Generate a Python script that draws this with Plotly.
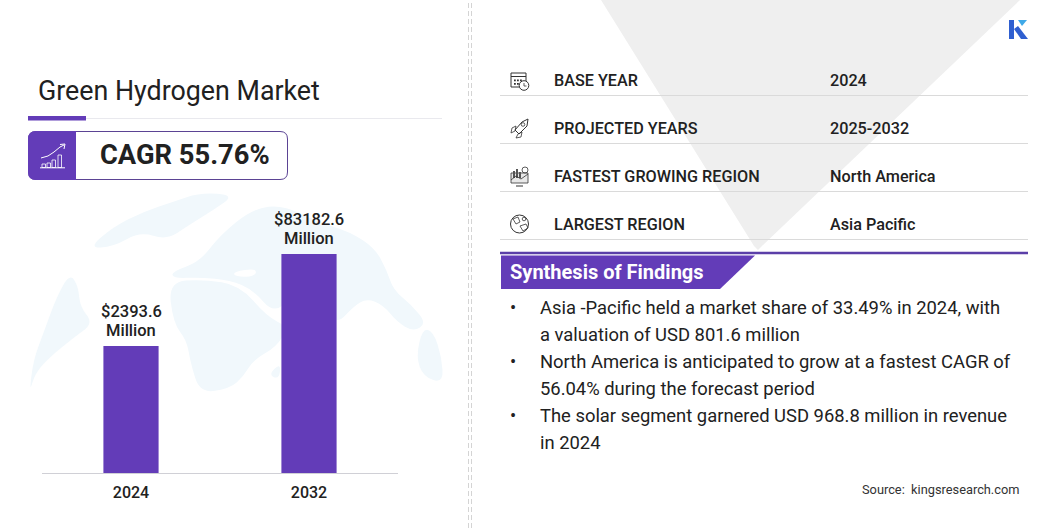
import plotly.graph_objects as go

W = 1056
H = 528

# Chart data #
years = ["2024", "2032"]
market_values = ["$2393.6", "$83182.6"]
market_unit = "Million"
# the bars in the picture are illustrative, so these are their drawn heights and not the market sizes
bar_heights = [127, 219]

info_labels = ["BASE YEAR", "PROJECTED YEARS", "FASTEST GROWING REGION", "LARGEST REGION"]
info_values = ["2024", "2025-2032", "North America", "Asia Pacific"]

findings = [
    ["Asia -Pacific held a market share of 33.49% in 2024, with", "a valuation of USD 801.6 million"],
    ["North America is anticipated to grow at a fastest CAGR of", "56.04% during the forecast period"],
    ["The solar segment garnered USD 968.8 million in revenue", "in 2024"],
]

# Colours #
PURPLE = "#633CB8"
INK = "#212121"
RULE = "#DADADA"
LAND = "#F1F8FC"
FONT = "Roboto"

shapes = []
notes = []


# Pixel to paper helpers #
def px(x):
    return x / W


def py(y):
    return 1 - y / H


def poly(points, fill=None, line=None, width=1, close=True):
    path = "M " + " L ".join(f"{px(x):.5f} {py(y):.5f}" for x, y in points)
    if close:
        path += " Z"
    shapes.append(dict(
        type="path", path=path, xref="paper", yref="paper", layer="below",
        fillcolor=fill if fill else "rgba(0,0,0,0)",
        line=dict(color=line if line else "rgba(0,0,0,0)", width=width if line else 0),
    ))


# Closed outline rounded through the midpoints of its sides #
def blob(points, fill):
    count = len(points)
    mid = [((points[i][0] + points[(i + 1) % count][0]) / 2, (points[i][1] + points[(i + 1) % count][1]) / 2)
           for i in range(0, count, 1)]
    path = f"M {px(mid[-1][0]):.5f} {py(mid[-1][1]):.5f}"
    for i in range(0, count, 1):
        path += f" Q {px(points[i][0]):.5f} {py(points[i][1]):.5f} {px(mid[i][0]):.5f} {py(mid[i][1]):.5f}"
    shapes.append(dict(
        type="path", path=path + " Z", xref="paper", yref="paper", layer="below",
        fillcolor=fill, line=dict(color="rgba(0,0,0,0)", width=0),
    ))


def rect(x0, y0, x1, y1, fill=None, line=None, width=1):
    shapes.append(dict(
        type="rect", xref="paper", yref="paper", layer="below",
        x0=px(x0), x1=px(x1), y0=py(y0), y1=py(y1),
        fillcolor=fill if fill else "rgba(0,0,0,0)",
        line=dict(color=line if line else "rgba(0,0,0,0)", width=width if line else 0),
    ))


def circle(cx, cy, r, fill=None, line=None, width=1):
    shapes.append(dict(
        type="circle", xref="paper", yref="paper", layer="below",
        x0=px(cx - r), x1=px(cx + r), y0=py(cy - r), y1=py(cy + r),
        fillcolor=fill if fill else "rgba(0,0,0,0)",
        line=dict(color=line if line else "rgba(0,0,0,0)", width=width if line else 0),
    ))


def hline(x0, x1, y, color, width=1, dash="solid"):
    shapes.append(dict(
        type="line", xref="paper", yref="paper", layer="below",
        x0=px(x0), x1=px(x1), y0=py(y), y1=py(y),
        line=dict(color=color, width=width, dash=dash),
    ))


def label(x, y, text, size, weight=400, color=INK, anchor="left"):
    notes.append(dict(
        x=px(x), y=py(y), xref="paper", yref="paper", text=text, showarrow=False,
        xanchor=anchor, yanchor="middle", borderpad=0,
        font=dict(family=FONT, size=size, color=color, weight=weight),
    ))


# Grey Triangle Behind The Table #
poly([(601, 0), (1020, 0), (762, 246), (758, 250), (754, 246)], fill="#EFEFEF")

globe_land = [
    [(88, 610), (100, 510), (130, 430), (170, 320), (210, 250), (235, 290), (240, 350), (280, 400),
     (225, 440), (150, 500), (105, 550)],
    [(265, 175), (340, 110), (430, 65), (520, 35), (600, 8), (705, 15), (640, 60), (560, 110),
     (500, 150), (420, 125), (340, 170)],
    [(515, 245), (600, 215), (660, 135), (760, 55), (850, 45), (950, 95), (1050, 125), (1125, 175),
     (1160, 240), (1180, 300), (1235, 345), (1280, 400), (1240, 425), (1190, 395), (1150, 345),
     (1100, 325), (1060, 350), (1010, 405), (950, 340), (880, 320), (820, 370), (760, 300), (690, 270),
     (600, 262), (520, 265)],
    [(505, 275), (610, 268), (720, 285), (800, 380), (865, 410), (830, 470), (760, 510), (730, 560),
     (690, 595), (600, 610), (572, 520), (560, 450), (520, 400)],
    [(1268, 415), (1300, 425), (1325, 500), (1330, 580), (1270, 560), (1248, 500)],
    [(805, 555), (842, 518), (838, 568)],
]
for land in globe_land:
    blob([(x / 3, 190 + y / 3) for x, y in land], LAND)
# Mediterranean gap #
blob([(x / 3, 190 + y / 3) for x, y in [(700, 245), (770, 235), (765, 260), (705, 260)]], "#FFFFFF")

# Title And Underline #
label(37, 91, "Green Hydrogen Market", 26.8)
hline(86, 442, 118.5, "#E9E9EE", 1)
rect(28, 116, 86, 120.5, fill=PURPLE)

# CAGR Badge #
shapes.append(dict(
    type="path", xref="paper", yref="paper", layer="below", fillcolor="#FFFFFF",
    line=dict(color="#5B4394", width=1),
    path=(f"M {px(36)} {py(131.5)} L {px(280)} {py(131.5)} Q {px(287.5)} {py(131.5)} {px(287.5)} {py(139)} "
          f"L {px(287.5)} {py(172)} Q {px(287.5)} {py(179.5)} {px(280)} {py(179.5)} L {px(36)} {py(179.5)} "
          f"Q {px(28.5)} {py(179.5)} {px(28.5)} {py(172)} L {px(28.5)} {py(139)} Q {px(28.5)} {py(131.5)} {px(36)} {py(131.5)} Z"),
))
shapes.append(dict(
    type="path", xref="paper", yref="paper", layer="below", fillcolor=PURPLE,
    line=dict(color=PURPLE, width=0),
    path=(f"M {px(36)} {py(131)} L {px(76)} {py(131)} L {px(76)} {py(180)} L {px(36)} {py(180)} "
          f"Q {px(28)} {py(180)} {px(28)} {py(172)} L {px(28)} {py(139)} Q {px(28)} {py(131)} {px(36)} {py(131)} Z"),
))
for x0, top in [(42, 164), (47, 163), (52, 160), (58, 155)]:
    rect(x0, top, x0 + 3.5, 167.5, line="#FFFFFF", width=0.8)
hline(40, 65, 167.8, "#FFFFFF", 1)
poly([(41, 158), (48, 156), (54, 152), (60, 147), (64, 145)], line="#FFFFFF", width=1, close=False)
poly([(60, 144.5), (65, 144), (64, 149)], line="#FFFFFF", width=1, close=False)
label(98.5, 155, "CAGR 55.76%", 27.3, weight=700)

# Double Dashed Divider #
for x in [468.5, 471.5]:
    shapes.append(dict(
        type="line", xref="paper", yref="paper", layer="below",
        x0=px(x), x1=px(x), y0=0, y1=1,
        line=dict(color="#D4D4D4", width=1, dash="5px,3px"),
    ))

# Logo #
poly([(1009, 20), (1014, 20), (1014, 39), (1009, 39)], fill="#2F5FD0")
poly([(1014, 29), (1021, 39), (1028, 39), (1018, 26)], fill="#2F5FD0")
poly([(1018, 20), (1027, 20), (1022, 26)], fill="#3FA9E8")

# Info Table #
for i in range(0, len(info_labels), 1):
    row_y = 80.5 + 48 * i
    hline(500, 1028, 95.5 + 48 * i, RULE, 1)
    label(553, row_y, info_labels[i], 16.2, weight=500)
    label(829, row_y, info_values[i], 16.2, weight=500)

# Table Icons #
icon = "#333333"
rect(511, 73, 526, 87, line=icon, width=1)
hline(511, 526, 76.5, icon, 1)
for x in [514, 517, 520]:
    for y in [79.5, 83]:
        rect(x, y, x + 1.8, y + 1.8, fill=icon)
circle(524, 85.5, 4.8, fill="#FFFFFF", line=icon, width=1)
poly([(524, 83), (524, 86), (526.5, 86)], line=icon, width=0.8, close=False)

poly([(528, 119), (527, 126), (519, 134), (515, 130), (522, 122)], line=icon, width=1)
circle(523, 124.5, 1.8, line=icon, width=0.8)
poly([(516, 126), (512, 128), (511, 133), (515, 131)], line=icon, width=0.8)
poly([(522, 132), (521, 137), (516, 138), (518, 134)], line=icon, width=0.8)

rect(511, 173, 528, 183, fill="#E8E8E8", line=icon, width=0.8)
for x0, top in [(513, 171), (516, 169), (519, 172)]:
    rect(x0, top, x0 + 2, 178, fill="#555555")
circle(525, 170, 3, line=icon, width=0.8)
poly([(511, 180), (516, 176), (521, 179), (528, 174)], line=icon, width=0.8, close=False)
hline(516, 523, 186, icon, 1)

circle(519.5, 224, 9, line=icon, width=1)
poly([(513, 219), (518, 217), (520, 222), (516, 224)], line=icon, width=0.8)
poly([(520, 226), (526, 224), (528, 228), (523, 231)], line=icon, width=0.8)
circle(524, 219, 1.8, line=icon, width=0.8)

# Synthesis Banner #
hline(500, 1028, 253, "#5B3FA8", 2.5)
poly([(501, 255.5), (755, 255.5), (720, 289), (501, 289)], fill=PURPLE)
label(509, 272, "Synthesis of Findings", 20, weight=700, color="#FFFFFF")

# Findings #
line_y = 307
for finding in findings:
    label(509, line_y, "•", 18.4)
    for line in finding:
        label(539, line_y, line, 18.4)
        line_y += 27

label(1020, 489, "Source:  kingsresearch.com", 12.8, color="#333333", anchor="right")

# Figure Initiation #
fig = go.Figure(go.Bar(
    x=years,
    y=bar_heights,
    marker=dict(color=PURPLE, line=dict(width=0)),
    hoverinfo="skip",
))

# Bar Labels, Two Annotations Each Because The Line Spacing Is Tighter Than A <br> #
# x is the category index here, a "2024" string would be read as position 2024
for i in range(0, len(years), 1):
    for text, lift in [(market_values[i], 34.5), (market_unit, 16)]:
        notes.append(dict(
            x=i, y=bar_heights[i], xref="x", yref="y", text=text, showarrow=False,
            xanchor="center", yanchor="middle", yshift=lift, borderpad=0,
            font=dict(family=FONT, size=16.5, color=INK, weight=500),
        ))

fig.update_layout(
    width=W,
    height=H,
    margin=dict(l=0, r=0, t=0, b=0),
    paper_bgcolor="#FFFFFF",
    plot_bgcolor="rgba(0,0,0,0)",
    showlegend=False,
    bargap=0.69,
    shapes=shapes,
    annotations=notes,
    font=dict(family=FONT, color=INK),
)

# X-Axis Styles #
fig.update_xaxes(
    type="category",
    domain=[px(42), px(398)],
    showline=True,
    linecolor="#D0D0D6",
    linewidth=1,
    showgrid=False,
    zeroline=False,
    ticks="outside",
    ticklen=5,
    tickcolor="rgba(0,0,0,0)",
    tickfont=dict(family=FONT, size=16, color=INK, weight=500),
)

# Y Axis Styles #
fig.update_yaxes(
    domain=[py(473), py(190)],
    range=[0, 283],
    visible=False,
)

# the page body has a default margin that would push the figure off by 8 px
fig.write_html(
    "out.html",
    config={"displayModeBar": False},
    post_script="document.body.style.margin='0';",
)
